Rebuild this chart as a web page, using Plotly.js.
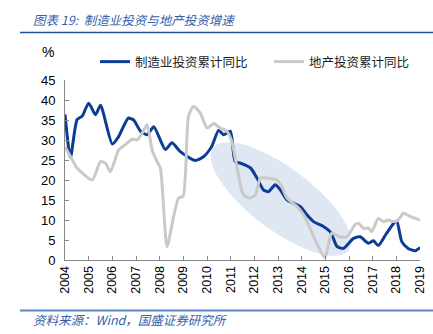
<!DOCTYPE html>
<html>
<head>
<meta charset="utf-8">
<script src="https://cdn.plot.ly/plotly-3.0.1.min.js"></script>
<style>
html,body{margin:0;padding:0;background:#fff;}
#chart{width:433px;height:334px;}
</style>
</head>
<body>
<div id="chart"></div>
<script>
// ---- data (decimal year, % yoy) ----
var mfgX = [2004.0, 2004.23, 2004.51, 2004.73, 2005.0, 2005.29, 2005.5, 2006.0, 2006.27, 2006.68, 2006.9,
  2007.19, 2007.47, 2007.75, 2008.24, 2008.52, 2008.87, 2009.5, 2009.85, 2010.2, 2010.49, 2010.7, 2010.98,
  2011.05, 2011.19, 2011.41, 2011.84, 2012.11, 2012.39, 2012.6, 2012.88, 2013.09, 2013.38, 2013.65, 2013.94,
  2014.22, 2014.5, 2014.92, 2015.2, 2015.34, 2015.49, 2015.76, 2016.19, 2016.47, 2016.82, 2017.03, 2017.24,
  2017.59, 2017.95, 2018.03, 2018.23, 2018.5, 2018.79, 2019.0];
var mfgY = [36.4, 25.6, 35.1, 36.0, 39.2, 36.3, 38.7, 29.0, 30.9, 35.5, 35.0,
  32.2, 31.3, 33.3, 27.6, 29.3, 27.1, 24.9, 25.8, 28.4, 32.4, 31.3, 32.2,
  30.5, 24.6, 24.2, 23.0, 20.5, 17.5, 17.1, 18.8, 17.6, 15.0, 14.2, 13.4,
  11.3, 9.6, 8.4, 7.1, 5.4, 3.4, 2.9, 5.4, 5.8, 4.2, 4.8, 3.6,
  6.7, 9.6, 9.6, 4.6, 2.9, 2.3, 3.1];

var reX = [2004.0, 2004.23, 2004.51, 2005.15, 2005.5, 2005.71, 2005.92, 2006.27, 2006.62, 2006.84, 2007.05,
  2007.26, 2007.47, 2007.68, 2007.89, 2008.03, 2008.31, 2008.59, 2008.8, 2008.99, 2009.22, 2009.43, 2009.72,
  2010.0, 2010.28, 2010.56, 2010.84, 2011.05, 2011.19, 2011.33, 2011.48, 2011.62, 2011.83, 2012.04, 2012.18,
  2012.25, 2012.53, 2012.95, 2013.16, 2013.38, 2013.8, 2014.08, 2014.36, 2014.57, 2014.85, 2014.99, 2015.13,
  2015.27, 2015.62, 2015.91, 2016.26, 2016.4, 2016.61, 2016.82, 2016.96, 2017.24, 2017.45, 2017.66, 2017.87,
  2018.08, 2018.3, 2018.58, 2019.0];
var reY = [28.3, 25.9, 23.0, 20.0, 24.6, 24.2, 22.1, 27.5, 29.2, 30.2, 30.0,
  31.7, 33.8, 27.5, 24.6, 23.0, 3.3, 10.9, 15.5, 15.9, 36.0, 38.4, 36.7,
  33.0, 34.1, 33.0, 32.2, 29.6, 25.5, 21.3, 17.1, 15.9, 15.5, 16.3, 19.2,
  20.5, 20.5, 20.0, 18.4, 15.5, 13.4, 11.3, 7.9, 5.0, 1.7, 0.6, 3.8,
  6.7, 5.8, 5.8, 8.9, 9.2, 7.9, 8.0, 7.1, 10.4, 9.6, 10.0, 9.6,
  10.0, 11.7, 10.9, 10.0];

var yearTicks = [2004, 2005, 2006, 2007, 2008, 2009, 2010, 2011, 2012, 2013, 2014, 2015, 2016, 2017, 2018, 2019];
var seriesNames = ['制造业投资累计同比', '地产投资累计同比'];
var titleText = '图表 19:  制造业投资与地产投资增速';
var sourceText = '资料来源：Wind，国盛证券研究所';

// ---- layout geometry ----
var W = 433, H = 334;
var M = {l: 65, r: 13, t: 80, b: 74};
var plotW = W - M.l - M.r, plotH = H - M.t - M.b;
var xr = [2004, 2019], yr = [0, 45];
var pxX = plotW / (xr[1] - xr[0]), pxY = plotH / (yr[1] - yr[0]);

// highlight ellipse (rotated), built in data units
function ellipsePath(cxD, cyD, aPx, bPx, angDeg) {
  var th = angDeg * Math.PI / 180, pts = [];
  for (var i = 0; i <= 72; i++) {
    var t = 2 * Math.PI * i / 72;
    var dx = aPx * Math.cos(t) * Math.cos(th) - bPx * Math.sin(t) * Math.sin(th);
    var dy = aPx * Math.cos(t) * Math.sin(th) + bPx * Math.sin(t) * Math.cos(th); // screen-down
    pts.push((i ? 'L' : 'M') + (cxD + dx / pxX).toFixed(4) + ',' + (cyD - dy / pxY).toFixed(4));
  }
  return pts.join(' ') + ' Z';
}

function px2paperX(p) { return (p - M.l) / plotW; }
function py2paperY(p) { return (H - M.b - p) / plotH; }

var tickFont = {family: 'Liberation Sans, Arial, sans-serif', size: 13, color: '#000'};
var cjk = 'Noto Sans CJK SC, sans-serif';
var legendFont = {family: cjk, size: 12.5, color: '#222'};

var traces = [
  {x: mfgX, y: mfgY, name: seriesNames[0], type: 'scatter', mode: 'lines', legend: 'legend',
   line: {color: '#0c3d96', width: 3, shape: 'spline', smoothing: 0.6}},
  {x: reX, y: reY, name: seriesNames[1], type: 'scatter', mode: 'lines', legend: 'legend2',
   line: {color: '#c9c9c9', width: 3, shape: 'spline', smoothing: 0.6}}
];

var layout = {
  width: W, height: H,
  margin: M,
  paper_bgcolor: '#fff', plot_bgcolor: 'rgba(0,0,0,0)',
  showlegend: true,
  legend: {orientation: 'h', x: px2paperX(95), xanchor: 'left', y: py2paperY(62), yanchor: 'middle',
           font: legendFont, bgcolor: 'rgba(0,0,0,0)', borderwidth: 0},
  legend2: {orientation: 'h', x: px2paperX(269), xanchor: 'left', y: py2paperY(62), yanchor: 'middle',
           font: legendFont, bgcolor: 'rgba(0,0,0,0)', borderwidth: 0},
  xaxis: {range: xr, tickvals: yearTicks, ticktext: yearTicks.map(String), tickangle: -90,
          ticks: 'inside', ticklen: 4, tickcolor: '#888', showline: true, linecolor: '#888', linewidth: 1,
          showgrid: false, zeroline: false, tickfont: {family: 'Liberation Sans, Arial, sans-serif', size: 12.5, color: '#000'},
          fixedrange: true},
  yaxis: {range: yr, dtick: 5, tick0: 0, ticks: 'inside', ticklen: 4, tickcolor: '#888',
          showline: true, linecolor: '#888', linewidth: 1, showgrid: false, zeroline: false,
          tickfont: tickFont, ticklabelstandoff: 6, fixedrange: true},
  shapes: [
    {type: 'path', xref: 'x', yref: 'y', layer: 'below', line: {width: 0}, fillcolor: '#dfe7f2',
     path: ellipsePath(2004 + (281 - M.l) / pxX, (H - M.b - 199) / pxY, 85, 31, 37)},
    {type: 'line', xref: 'paper', yref: 'paper', x0: px2paperX(20), x1: px2paperX(433),
     y0: py2paperY(32.5), y1: py2paperY(32.5), line: {color: '#1f4f9e', width: 1.5}},
    {type: 'line', xref: 'paper', yref: 'paper', x0: px2paperX(20), x1: px2paperX(433),
     y0: py2paperY(310.5), y1: py2paperY(310.5), line: {color: '#5b84c2', width: 2}}
  ],
  annotations: [
    {text: '<i>' + titleText + '</i>', xref: 'paper', yref: 'paper', x: px2paperX(31), y: py2paperY(19),
     xanchor: 'left', yanchor: 'middle', showarrow: false, font: {family: cjk, size: 12.5, color: '#3560aa'}},
    {text: '%', xref: 'paper', yref: 'paper', x: px2paperX(48), y: py2paperY(52),
     xanchor: 'center', yanchor: 'middle', showarrow: false, font: {family: 'Liberation Sans, Arial, sans-serif', size: 14, color: '#000'}},
    {text: '<i>' + sourceText + '</i>', xref: 'paper', yref: 'paper', x: px2paperX(31), y: py2paperY(319),
     xanchor: 'left', yanchor: 'middle', showarrow: false, font: {family: cjk, size: 12.5, color: '#3560aa'}}
  ]
};

Plotly.newPlot('chart', traces, layout, {displayModeBar: false, staticPlot: true});
</script>
</body>
</html>
